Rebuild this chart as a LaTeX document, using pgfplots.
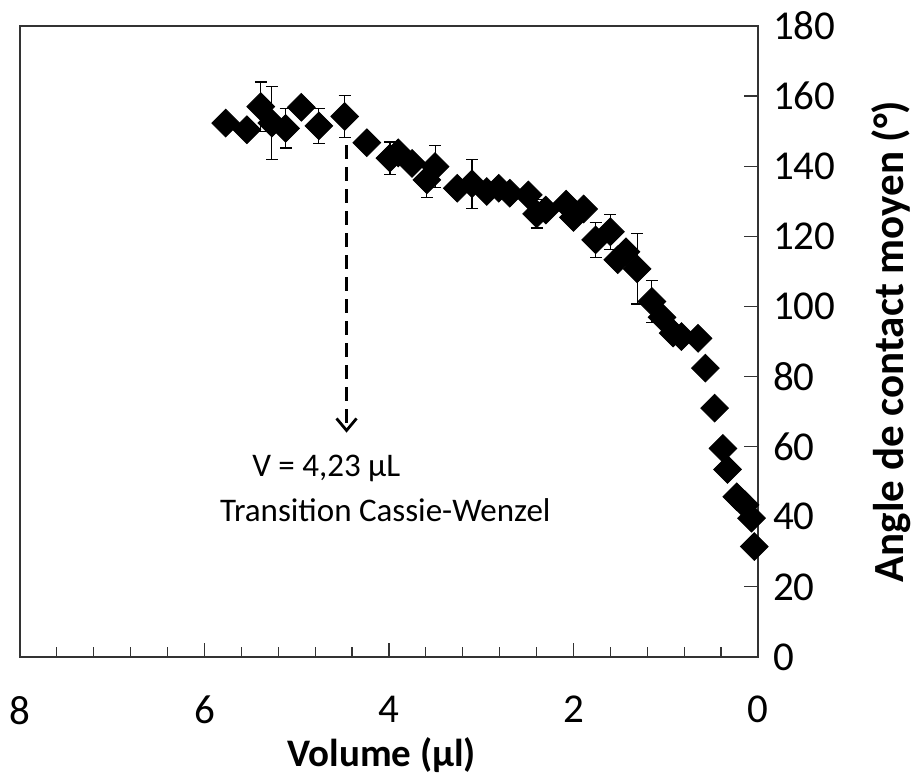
\documentclass[border=0pt]{standalone}
\usepackage{fontspec}
\setmainfont{Carlito}
\usepackage{pgfplots}
\pgfplotsset{compat=1.18}
\usepackage{pgfplotstable}
\usetikzlibrary{arrows.meta}

\pgfplotstableread{
x y e
5.77 152.3 0
5.54 150.4 0
5.39 157.0 7
5.27 152.3 10.5
5.12 150.8 5.6
4.95 156.8 0
4.76 151.5 5
4.48 154.2 6
4.24 146.7 2
3.99 142.3 4.6
3.90 143.8 0
3.75 140.8 0
3.59 136.1 5
3.50 139.9 6
3.26 133.7 0
3.10 135.0 7
2.94 132.8 0
2.81 133.7 0
2.69 132.3 0
2.49 131.8 0
2.40 126.4 4
2.30 127.5 0
2.08 129.2 0
2.00 125.4 0
1.89 127.8 0
1.76 119.0 5
1.60 121.3 5
1.52 113.3 0
1.43 115.6 0
1.31 110.7 10
1.15 101.4 6
1.04 96.9 0
0.92 92.4 0
0.83 91.4 0
0.65 90.9 0
0.57 82.4 0
0.47 71.0 0
0.38 59.5 0
0.33 53.5 0
0.23 45.7 0
0.14 43.4 0
0.07 39.6 0
0.04 31.5 0
}\datatable

\begin{document}
\begin{tikzpicture}
\begin{axis}[
  scale only axis,
  width=369pt, height=315.5pt,
  x dir=reverse,
  xmin=0, xmax=8, ymin=0, ymax=180,
  xtick={0,2,4,6,8},
  minor x tick num=4,
  ytick={0,20,...,180},
  xtick pos=lower,
  ytick pos=right,
  yticklabel pos=right,
  tick align=inside,
  major tick length=7pt,
  minor tick length=5pt,
  axis line style={black!80, line width=0.6pt},
  every tick/.style={black!80, line width=0.6pt},
  /pgf/number format/assume math mode=true,
  tick label style={font=\fontsize{20.5}{24}\selectfont},
  xticklabel style={yshift=-16pt},
  yticklabel style={xshift=4pt},
  xlabel={Volume (µl)},
  ylabel={Angle de contact moyen (°)},
  xlabel style={font=\fontsize{19.5}{24}\selectfont\bfseries, at={(axis description cs:0.49,-0.155)}, anchor=center},
  ylabel style={font=\fontsize{21.5}{24}\selectfont\bfseries, at={(axis description cs:1.18,0.5)}, anchor=center},
  clip=false,
]
\addplot[only marks, mark=square*, mark size=4.9pt,
  mark options={rotate=45, fill=black, draw=black},
  error bars/.cd, y dir=both, y explicit,
  error mark options={rotate=90, mark size=3pt, black, line width=0.6pt},
  error bar style={black, line width=0.6pt}]
  table[x=x, y=y, y error=e] {\datatable};
\draw[black, line width=1.4pt, dash pattern=on 7pt off 4pt, -{Straight Barb[length=6pt, width=10pt, line width=1.4pt]}]
  (axis cs:4.46,146) -- (axis cs:4.46,64);
\node[font=\fontsize{16.5}{20}\selectfont] at (axis cs:4.68,53.9) {V = 4,23 µL};
\node[font=\fontsize{16.5}{20}\selectfont] at (axis cs:4.04,41.9) {Transition Cassie-Wenzel};
\end{axis}
\pgfresetboundingbox
\useasboundingbox (-10pt,-58.5pt) rectangle (448pt,328.5pt);
\end{tikzpicture}
\end{document}
